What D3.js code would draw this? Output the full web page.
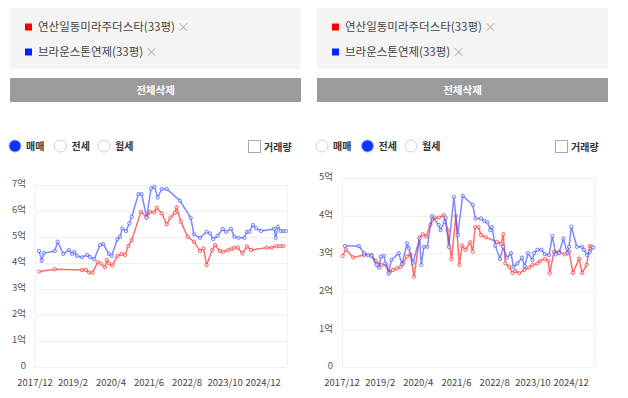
<!DOCTYPE html>
<html>
<head>
<meta charset="utf-8">
<script src="https://cdn.jsdelivr.net/npm/d3@7"></script>
<style>
  body { margin: 0; background: #fff; font-family: "Noto Sans CJK KR", "Noto Sans", sans-serif; }
</style>
</head>
<body>
<div id="container"><svg></svg></div>
<script>
let width = 628, height = 398;

// 단지 이름
let aptNames = ['연산일동미라주더스타(33평)', '브라운스톤연제(33평)'];
let aptColors = ['rgba(255,45,45,0.7)', 'rgba(55,75,255,0.65)'];
let legendColors = ['#ff0000', '#0022ff'];
let radioLabels = ['매매', '전세', '월세'];

// x축 눈금
let tickDates = ['2017-12-01', '2019-02-01', '2020-04-01', '2021-06-01', '2022-08-01', '2023-10-01', '2024-12-01'];
let xDomain = ['2017-12-01', '2025-08-25'];

// 매매 (단위: 억)
let saleRed = [
  ['2018-01-15', 3.67], ['2018-07-11', 3.76], ['2019-05-13', 3.73], ['2019-06-24', 3.73],
  ['2019-08-01', 3.63], ['2019-09-08', 3.63], ['2019-11-03', 4.03], ['2019-12-06', 3.98],
  ['2020-01-24', 3.83], ['2020-02-13', 4.12], ['2020-03-08', 3.98], ['2020-04-17', 3.90],
  ['2020-06-10', 4.27], ['2020-07-29', 4.35], ['2020-09-05', 4.31], ['2020-10-12', 4.65],
  ['2020-11-19', 4.88], ['2021-03-02', 5.97], ['2021-05-05', 5.75], ['2021-06-11', 5.97],
  ['2021-07-29', 5.95], ['2021-08-25', 6.12], ['2021-10-21', 5.91], ['2021-12-16', 5.49],
  ['2022-01-28', 5.75], ['2022-03-18', 5.93], ['2022-04-06', 6.14], ['2022-05-24', 5.59],
  ['2022-08-08', 5.01], ['2022-10-18', 4.82], ['2022-12-24', 4.46], ['2023-02-01', 4.56],
  ['2023-03-08', 3.92], ['2023-05-10', 4.50], ['2023-06-10', 4.69], ['2023-08-05', 4.46],
  ['2023-09-12', 4.43], ['2023-11-07', 4.50], ['2023-12-15', 4.54], ['2024-01-13', 4.59],
  ['2024-02-21', 4.59], ['2024-04-12', 4.37], ['2024-06-01', 4.63], ['2024-07-18', 4.50],
  ['2025-01-11', 4.59], ['2025-03-07', 4.59], ['2025-05-02', 4.65], ['2025-06-08', 4.65],
  ['2025-07-15', 4.65]
];
let saleBlue = [
  ['2018-01-15', 4.46], ['2018-02-15', 4.09], ['2018-03-10', 4.38], ['2018-07-11', 4.46],
  ['2018-08-11', 4.82], ['2018-10-13', 4.35], ['2018-12-16', 4.50], ['2019-01-22', 4.35],
  ['2019-02-15', 4.43], ['2019-03-18', 4.27], ['2019-05-13', 4.22], ['2019-07-08', 4.31],
  ['2019-08-08', 4.23], ['2019-09-26', 4.15], ['2019-11-29', 4.69], ['2020-01-05', 4.73],
  ['2020-03-08', 4.35], ['2020-04-08', 4.27], ['2020-06-10', 4.91], ['2020-07-10', 5.01],
  ['2020-08-05', 5.33], ['2020-09-16', 5.23], ['2020-10-23', 5.53], ['2020-11-19', 5.78],
  ['2021-02-02', 6.65], ['2021-03-10', 6.65], ['2021-05-05', 5.75], ['2021-06-23', 6.87],
  ['2021-08-01', 6.93], ['2021-09-05', 6.52], ['2021-10-21', 6.85], ['2021-12-16', 6.85],
  ['2022-05-13', 6.40], ['2022-09-11', 5.74], ['2022-10-18', 5.10], ['2022-12-24', 4.97],
  ['2023-03-08', 5.20], ['2023-04-15', 5.14], ['2023-05-21', 4.92], ['2023-07-10', 5.05],
  ['2023-09-05', 5.31], ['2023-10-12', 5.20], ['2023-12-07', 5.31], ['2024-01-13', 5.01],
  ['2024-02-28', 4.97], ['2024-05-04', 4.97], ['2024-06-01', 5.20], ['2024-06-29', 5.20],
  ['2024-08-07', 5.46], ['2024-09-13', 5.33], ['2024-11-08', 5.23], ['2025-04-02', 5.31],
  ['2025-04-21', 4.97], ['2025-05-13', 5.40], ['2025-06-16', 5.23], ['2025-07-15', 5.23],
  ['2025-08-11', 5.23]
];

// 전세 (단위: 억)
let rentRed = [
  ['2017-12-08', 2.94], ['2018-01-14', 3.11], ['2018-04-04', 2.90], ['2018-08-05', 2.96],
  ['2018-10-26', 2.96], ['2018-12-13', 2.80], ['2019-02-15', 2.70], ['2019-04-10', 2.70],
  ['2019-05-16', 2.51], ['2019-06-23', 2.57], ['2019-08-07', 2.61], ['2019-09-17', 2.65],
  ['2019-10-12', 2.74], ['2019-11-27', 2.92], ['2020-01-03', 2.98], ['2020-02-13', 2.39],
  ['2020-04-15', 3.42], ['2020-05-21', 3.51], ['2020-06-28', 3.45], ['2020-08-13', 3.76],
  ['2020-10-01', 3.95], ['2020-11-14', 3.95], ['2021-01-08', 4.02], ['2021-02-22', 3.62],
  ['2021-04-06', 2.85], ['2021-05-25', 4.00], ['2021-07-03', 2.70], ['2021-08-03', 3.21],
  ['2021-09-09', 3.10], ['2021-11-01', 3.30], ['2021-11-29', 3.05], ['2021-12-26', 3.70],
  ['2022-02-01', 3.70], ['2022-03-01', 3.49], ['2022-04-26', 3.43], ['2022-08-27', 3.31],
  ['2022-10-10', 3.25], ['2022-11-05', 3.51], ['2022-11-28', 2.74], ['2023-01-11', 2.65],
  ['2023-02-17', 2.49], ['2023-03-17', 2.54], ['2023-05-01', 2.48], ['2023-06-26', 2.57],
  ['2023-08-20', 2.63], ['2023-09-27', 2.70], ['2023-11-22', 2.74], ['2023-12-21', 2.80],
  ['2024-02-12', 2.86], ['2024-03-22', 2.81], ['2024-04-07', 2.48], ['2024-05-24', 3.05],
  ['2024-07-19', 3.05], ['2024-09-21', 2.98], ['2024-11-08', 3.05], ['2024-12-22', 2.49],
  ['2025-02-28', 2.86], ['2025-04-04', 2.49], ['2025-05-23', 2.70], ['2025-06-28', 3.20],
  ['2025-07-24', 3.18]
];
let rentBlue = [
  ['2018-01-03', 3.20], ['2018-06-07', 3.20], ['2018-08-05', 3.01], ['2018-09-19', 2.96],
  ['2018-10-26', 2.94], ['2018-12-21', 2.70], ['2019-01-19', 2.63], ['2019-02-08', 2.92],
  ['2019-03-14', 2.94], ['2019-03-30', 2.74], ['2019-05-06', 2.48], ['2019-06-05', 2.83],
  ['2019-08-26', 3.01], ['2019-10-01', 2.72], ['2019-11-27', 3.27], ['2019-12-18', 3.14],
  ['2020-02-02', 2.76], ['2020-04-15', 3.40], ['2020-05-04', 2.70], ['2020-06-02', 3.18],
  ['2020-07-10', 3.18], ['2020-08-30', 3.99], ['2020-11-14', 3.76], ['2020-12-05', 3.62],
  ['2021-01-19', 3.84], ['2021-01-30', 3.95], ['2021-03-06', 3.18], ['2021-05-03', 4.50],
  ['2021-06-15', 3.49], ['2021-08-09', 4.53], ['2021-11-29', 4.29], ['2021-12-29', 3.93],
  ['2022-03-01', 3.93], ['2022-04-07', 3.86], ['2022-05-13', 3.83], ['2022-06-13', 3.62],
  ['2022-07-01', 3.70], ['2022-08-08', 3.21], ['2022-09-29', 2.86], ['2022-11-05', 3.18],
  ['2022-12-16', 2.89], ['2023-01-30', 3.01], ['2023-02-28', 2.65], ['2023-04-12', 2.74],
  ['2023-06-01', 2.89], ['2023-07-03', 2.67], ['2023-08-09', 3.01], ['2023-09-27', 2.83],
  ['2023-10-15', 3.01], ['2023-11-22', 3.10], ['2024-01-05', 3.10], ['2024-02-12', 2.99],
  ['2024-03-30', 2.96], ['2024-05-06', 3.47], ['2024-06-13', 2.98], ['2024-07-19', 3.01],
  ['2024-09-06', 3.40], ['2024-10-20', 3.01], ['2024-11-08', 3.18], ['2024-12-04', 3.71],
  ['2025-02-03', 3.18], ['2025-04-04', 3.18], ['2025-04-23', 3.10], ['2025-05-30', 2.96],
  ['2025-06-28', 3.05], ['2025-08-05', 3.16]
];

let parse = d3.timeParse('%Y-%m-%d');
let fmt = d3.timeFormat('%Y/%-m');

function draw_panel(svg, ox, opt) {
  let g = svg.append('g').attr('transform', `translate(${ox},0)`);

  // 단지 목록 박스
  g.append('rect').attr('x', 10).attr('y', 8).attr('width', 291).attr('height', 61).attr('fill', '#f4f4f4');
  aptNames.forEach((name, i) => {
    let cy = 27 + i * 25;
    g.append('rect').attr('x', 25).attr('y', cy - 3.5).attr('width', 7).attr('height', 7).attr('fill', legendColors[i]);
    let t = g.append('text').attr('x', 38).attr('y', cy).attr('dy', '0.36em')
      .attr('font-size', 11.5).attr('fill', '#444').text(name);
    let w = t.node().getComputedTextLength();
    g.append('text').attr('x', 38 + w + 2).attr('y', cy).attr('dy', '0.36em')
      .attr('font-size', 12.5).attr('fill', '#b5b5b5').text('×');
  });

  // 전체삭제 버튼
  g.append('rect').attr('x', 10).attr('y', 78).attr('width', 291).attr('height', 24).attr('fill', '#9b9b9b');
  g.append('text').attr('x', 155.5).attr('y', 90).attr('dy', '0.36em').attr('text-anchor', 'middle')
    .attr('font-size', 10.5).attr('font-weight', 'bold').attr('fill', '#fff').text('전체삭제');

  // 라디오 버튼
  let rx = [15, 60.5, 104];
  radioLabels.forEach((lab, i) => {
    let on = i == opt.selected;
    g.append('circle').attr('cx', rx[i]).attr('cy', 146).attr('r', 6)
      .attr('fill', on ? '#1133ff' : '#fff').attr('stroke', on ? '#9aa8ff' : '#cfcfcf').attr('stroke-width', 1);
    g.append('text').attr('x', rx[i] + 11).attr('y', 146).attr('dy', '0.36em')
      .attr('font-size', 10).attr('font-weight', 'bold').attr('fill', '#333').text(lab);
  });
  g.append('rect').attr('x', 248.5).attr('y', 140.5).attr('width', 12).attr('height', 12)
    .attr('fill', '#fff').attr('stroke', '#aaa');
  g.append('text').attr('x', 264).attr('y', 147).attr('dy', '0.36em')
    .attr('font-size', 10).attr('font-weight', 'bold').attr('fill', '#333').text('거래량');

  // 차트
  let x = d3.scaleTime().domain(xDomain.map(parse)).range([35, 35 + opt.plotW]);
  let y = d3.scaleLinear().domain([0, opt.ymax]).range([367, opt.top]);

  let ticks = d3.range(0, opt.ymax + 1);
  g.append('g').selectAll('line').data(ticks).join('line')
    .attr('x1', 35).attr('x2', 35 + opt.plotW)
    .attr('y1', d => y(d) + 0.5).attr('y2', d => y(d) + 0.5)
    .attr('stroke', '#efefef');
  g.append('g').selectAll('line').data([35, 35 + opt.plotW]).join('line')
    .attr('x1', d => d + 0.5).attr('x2', d => d + 0.5)
    .attr('y1', opt.top).attr('y2', 367)
    .attr('stroke', '#f2f2f2');

  g.append('g').selectAll('text').data(ticks).join('text')
    .attr('x', 26).attr('y', d => y(d) - 1).attr('dy', '0.36em')
    .attr('text-anchor', 'end').attr('font-size', 9.5).attr('fill', '#555')
    .text(d => d == 0 ? '0' : d + '억');

  g.append('g').selectAll('text').data(tickDates.map(parse)).join('text')
    .attr('x', d => x(d)).attr('y', 383).attr('dy', '0.36em')
    .attr('text-anchor', 'middle').attr('font-size', 9.5).attr('fill', '#444')
    .text(d => fmt(d));

  let line = d3.line().x(d => x(parse(d[0]))).y(d => y(d[1]));
  opt.series.forEach((s, i) => {
    g.append('path').datum(s).attr('d', line)
      .attr('fill', 'none').attr('stroke', aptColors[i]).attr('stroke-width', 1.5);
    g.append('g').selectAll('circle').data(s).join('circle')
      .attr('cx', d => x(parse(d[0]))).attr('cy', d => y(d[1])).attr('r', 1.7)
      .attr('fill', '#fff').attr('fill-opacity', 0.6)
      .attr('stroke', aptColors[i]).attr('stroke-width', 1);
  });
}

function main() {
  let svg = d3.select('#container').select('svg')
    .attr('width', width).attr('height', height);
  draw_panel(svg, 0, { selected: 0, ymax: 7, top: 185, plotW: 252, series: [saleRed, saleBlue] });
  draw_panel(svg, 307, { selected: 1, ymax: 5, top: 178, plotW: 253, series: [rentRed, rentBlue] });
}

main();
</script>
</body>
</html>
